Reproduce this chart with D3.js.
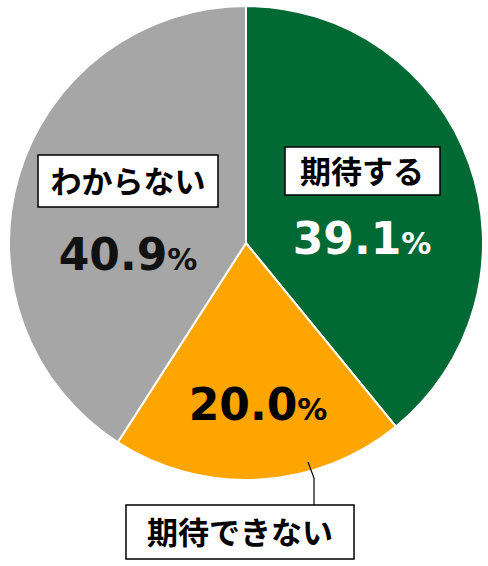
<!DOCTYPE html>
<html><head><meta charset="utf-8">
<script src="https://cdn.jsdelivr.net/npm/d3@7"></script>
<style>body{margin:0;background:#fff}</style>
</head><body>
<div id="chart"></div>
<script>
const labels = ["期待する", "期待できない", "わからない"];
const values = [39.1, 20.0, 40.9];
const colors = ["#006934", "#FFA500", "#A6A6A6"];

const width = 488, height = 566;
const cx = 246, cy = 243, r = 237;
const font = "'Noto Sans CJK JP', sans-serif";

const svg = d3.select("#chart").append("svg")
    .attr("width", width).attr("height", height)
    .attr("font-family", font);

const arcs = d3.pie().sort(null)(values);
const arc = d3.arc().innerRadius(0).outerRadius(r);

const g = svg.append("g").attr("transform", `translate(${cx},${cy})`);
g.selectAll("path").data(arcs).join("path")
    .attr("d", arc)
    .attr("fill", (d, i) => colors[i])
    .attr("stroke", "#fff")
    .attr("stroke-width", 2);

// leader line for the small slice
svg.append("path")
    .attr("d", "M308,462 L314,478 L314,506")
    .attr("fill", "none").attr("stroke", "#000").attr("stroke-width", 1.2);

// label boxes and percent text, positioned by hand
const place = [
    {box: [285, 147, 155, 48], tx: 362, ty: 183, px: 362, py: 254, pc: "#fff"},
    {box: [126, 505, 228, 54], tx: 240, ty: 544, px: 258, py: 420, pc: "#000"},
    {box: [38, 155, 180, 52], tx: 128, ty: 193, px: 128, py: 270, pc: "#111"}
];

place.forEach((p, i) => {
    const [x, y, w, h] = p.box;
    svg.append("rect").attr("x", x).attr("y", y).attr("width", w).attr("height", h)
        .attr("fill", "#fff").attr("stroke", "#000").attr("stroke-width", 1.5);
    svg.append("text").attr("x", p.tx).attr("y", p.ty)
        .attr("text-anchor", "middle").attr("font-size", 31).attr("font-weight", "bold")
        .text(labels[i]);
    const t = svg.append("text").attr("x", p.px).attr("y", p.py)
        .attr("text-anchor", "middle").attr("fill", p.pc)
        .attr("font-family", "'DejaVu Sans', sans-serif")
        .attr("font-weight", "bold");
    t.append("tspan").attr("font-size", 44).text(values[i].toFixed(1));
    t.append("tspan").attr("font-size", 30).text("%");
});
</script>
</body></html>
